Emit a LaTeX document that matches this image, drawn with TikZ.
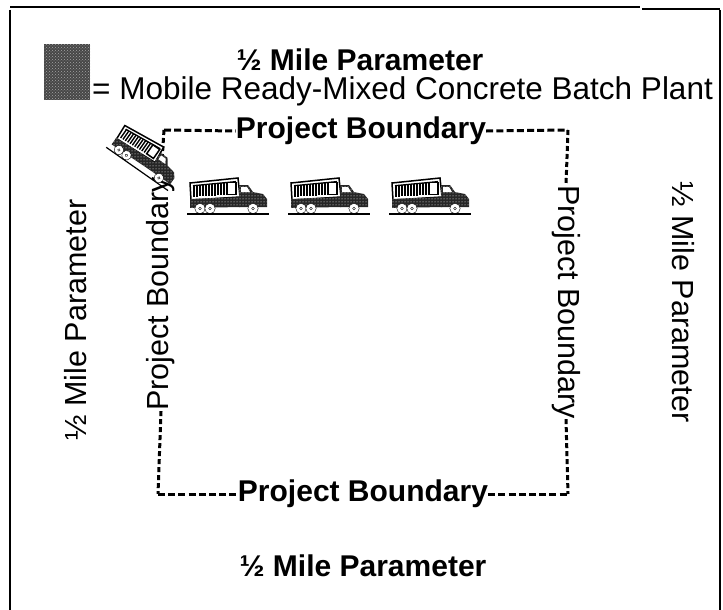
\documentclass[tikz,border=0pt]{standalone}
\usepackage{fontspec}
\setmainfont{Liberation Sans}
\usetikzlibrary{patterns}

\tikzset{
  frameline/.style={line width=1.4pt, black},
  bndh/.style={line width=3pt, dash pattern=on 7pt off 3.2pt},
  bndv/.style={line width=3pt, dash pattern=on 5pt off 3pt},
  lbl/.style={inner sep=0pt, font=\fontsize{30.5}{30}\selectfont},
  blbl/.style={inner sep=0pt, font=\fontsize{30}{30}\selectfont\bfseries},
  speckle/.style={fill=black!85, postaction={pattern=dots, pattern color=white}},
  plantfill/.style={fill=black!72, postaction={pattern=crosshatch dots, pattern color=black!35}},
  truck/.pic={
    % dump body with its ribs
    \filldraw[fill=white, line width=1.5pt] (0,6) -- (48,1) -- (50,20) -- (1,23) -- cycle;
    \foreach \i in {4,7,...,34}
      \draw[line width=1.4pt] (\i,{9-\i*0.1}) -- (\i,{20-\i*0.06});
    \draw[line width=1.3pt] (3,{9-0.3}) -- (46,4.6);
    \draw[line width=1.5pt] (37,5.6) rectangle (46,17.5);
    % chassis and cab
    \fill[speckle] (0,22) -- (50,20) -- (50,30) -- (0,31) -- cycle;
    \fill[speckle] (49,8) -- (58,8) -- (63,15) -- (73,17) -- (77,22) -- (77,30) -- (49,30) -- cycle;
    \fill[white] (51,10) -- (57,10) -- (60,15) -- (51,15) -- cycle;
    % wheels
    \foreach \wx in {10,20,63}
      \filldraw[fill=black] (\wx,31.5) circle (5.2) (\wx,31.5) [fill=white] circle (1.4);
    % ground shadow
    \draw[line width=1.2pt] (-3,37) -- (79,37);
  }
}

\begin{document}
\begin{tikzpicture}[x=1pt,y=-1pt]
\useasboundingbox (0,0) rectangle (723,610);

% page frame
\draw[frameline] (10,7) -- (640,7);
\draw[frameline] (642,9) -- (720,9);
\draw[frameline] (10,10) -- (10,610);
\draw[frameline] (720,10) -- (720,610);

% legend
\node[minimum width=46pt, minimum height=55pt, inner sep=0pt, plantfill] (plant) at (67,72) {};
\node[blbl] (toptitle) at (360,60) {½ Mile Parameter};
\node[lbl, font=\fontsize{31.5}{31}\selectfont, anchor=west] (legend) at (92,91) {= Mobile Ready-Mixed Concrete Batch Plant};

% half-mile parameter labels
\node[lbl, rotate=90] (leftpar) at (76,320) {½ Mile Parameter};
\node[lbl, rotate=-90] (rightpar) at (683,302) {½ Mile Parameter};
\node[blbl] (botpar) at (363,566) {½ Mile Parameter};

% project boundary labels
\node[blbl] (bt) at (361,131) {Project Boundary};
\node[blbl] (bb) at (363,494) {Project Boundary};
\node[lbl, rotate=90] (bl) at (161,294) {Project Boundary};
\node[lbl, rotate=-90] (br) at (566,302) {Project Boundary};

% boundary corners
\coordinate (tl) at (164,130);
\coordinate (tr) at (568,130);
\coordinate (brc) at (568,494);
\coordinate (blc) at (158,494);

% dashed boundary between the labels
\draw[bndh] (tl) -- (bt.west);
\draw[bndh] (bt.east) -- (tr);
\draw[bndh] (blc) -- (bb.west);
\draw[bndh] (bb.east) -- (brc);
\draw[bndv] (tl) -- (bl.east);
\draw[bndv] (bl.west) -- (blc);
\draw[bndv] (tr) -- (br.west);
\draw[bndv] (br.east) -- (brc);

% trucks
\pic[rotate=-35, scale=0.92] at (128,121) {truck};
\pic at (190,177) {truck};
\pic at (291,177) {truck};
\pic at (392,177) {truck};
\end{tikzpicture}
\end{document}
